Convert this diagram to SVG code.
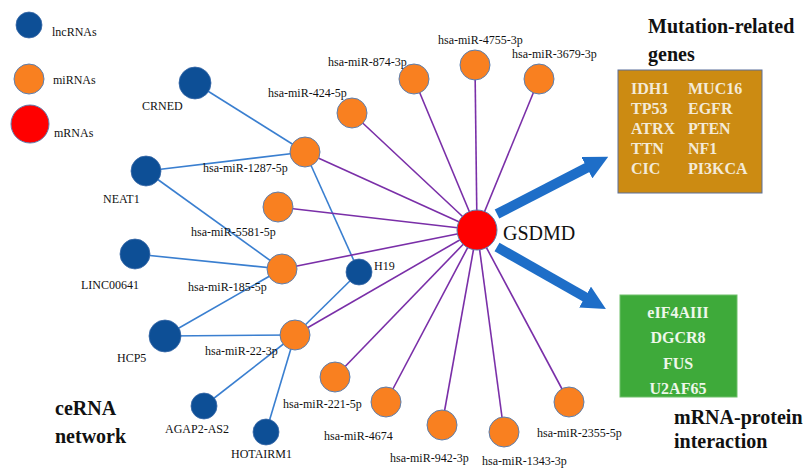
<svg xmlns="http://www.w3.org/2000/svg" width="809" height="468" viewBox="0 0 809 468">
<defs>
<style>
.lnc{fill:#0d4f96;stroke:#3a6aa8;stroke-width:0.8}
.mi{fill:#f98020;stroke:#5b7fb0;stroke-width:1}
.m{fill:#ff0000;stroke:#5b7fb0;stroke-width:1}
.lbl{font-family:"Liberation Serif","Times New Roman",Tinos,"DejaVu Serif",serif;font-size:12px;fill:#111}
.leg{font-family:"Liberation Serif","Times New Roman",Tinos,"DejaVu Serif",serif;font-size:12px;fill:#111}
.blue{stroke:#3a7fd0;stroke-width:1.6;fill:none}
.pur{stroke:#7a2fa8;stroke-width:1.6;fill:none}
.title{font-family:"Liberation Serif","Times New Roman",Tinos,"DejaVu Serif",serif;font-size:20px;font-weight:bold;fill:#111}
.box{font-family:"Liberation Serif","Times New Roman",Tinos,"DejaVu Serif",serif;font-size:16px;font-weight:bold;fill:#f3ead8}
.gbox{font-family:"Liberation Serif","Times New Roman",Tinos,"DejaVu Serif",serif;font-size:16px;font-weight:bold;fill:#eef7ea}
.big{font-family:"Liberation Serif","Times New Roman",Tinos,"DejaVu Serif",serif;font-size:20px;fill:#111}
</style>
<marker id="ah" markerWidth="2.4" markerHeight="2.4" refX="0.8" refY="1.2" orient="auto" markerUnits="strokeWidth">
<path d="M0,0 L2.4,1.2 L0,2.4 z" fill="#1e6ec8"/>
</marker>
</defs>
<rect width="809" height="468" fill="#ffffff"/>

<g id="legend">
<circle class="lnc" cx="29" cy="25" r="13"/>
<text class="leg" x="52" y="36">lncRNAs</text>
<circle class="mi" cx="29" cy="79" r="15"/>
<text class="leg" x="53" y="84">miRNAs</text>
<circle class="m" cx="30" cy="124" r="19"/>
<text class="leg" x="54" y="137">mRNAs</text>
</g>

<g id="connectors">
<line class="blue" x1="195" y1="83" x2="305" y2="152"/>
<line class="blue" x1="146" y1="171" x2="305" y2="152"/>
<line class="blue" x1="146" y1="171" x2="282" y2="269"/>
<line class="blue" x1="305" y1="152" x2="359" y2="272"/>
<line class="blue" x1="135" y1="254" x2="282" y2="269"/>
<line class="blue" x1="165" y1="336" x2="282" y2="269"/>
<line class="blue" x1="165" y1="336" x2="295" y2="335"/>
<line class="blue" x1="359" y1="272" x2="295" y2="335"/>
<line class="blue" x1="204" y1="406" x2="295" y2="335"/>
<line class="blue" x1="266" y1="432" x2="295" y2="335"/>
<line class="pur" x1="352" y1="113" x2="477" y2="230"/>
<line class="pur" x1="414" y1="79" x2="477" y2="230"/>
<line class="pur" x1="475" y1="65" x2="477" y2="230"/>
<line class="pur" x1="539" y1="79" x2="477" y2="230"/>
<line class="pur" x1="305" y1="152" x2="477" y2="230"/>
<line class="pur" x1="278" y1="207" x2="477" y2="230"/>
<line class="pur" x1="282" y1="269" x2="477" y2="230"/>
<line class="pur" x1="295" y1="335" x2="477" y2="230"/>
<line class="pur" x1="335" y1="377" x2="477" y2="230"/>
<line class="pur" x1="386" y1="402" x2="477" y2="230"/>
<line class="pur" x1="442" y1="425" x2="477" y2="230"/>
<line class="pur" x1="504" y1="432" x2="477" y2="230"/>
<line class="pur" x1="569" y1="402" x2="477" y2="230"/>
<line x1="497" y1="214" x2="594" y2="164" stroke="#1e6ec8" stroke-width="10" marker-end="url(#ah)"/>
<line x1="497" y1="247" x2="592" y2="301" stroke="#1e6ec8" stroke-width="10" marker-end="url(#ah)"/>
</g>

<g id="CRNED"><circle class="lnc" cx="195" cy="83" r="16"/><text class="lbl" x="142" y="110">CRNED</text></g>
<g id="NEAT1"><circle class="lnc" cx="146" cy="171" r="15"/><text class="lbl" x="103" y="203">NEAT1</text></g>
<g id="LINC00641"><circle class="lnc" cx="135" cy="254" r="15"/><text class="lbl" x="81" y="289">LINC00641</text></g>
<g id="HCP5"><circle class="lnc" cx="165" cy="336" r="16"/><text class="lbl" x="117" y="362">HCP5</text></g>
<g id="AGAP2-AS2"><circle class="lnc" cx="204" cy="406" r="13"/><text class="lbl" x="165" y="433">AGAP2-AS2</text></g>
<g id="HOTAIRM1"><circle class="lnc" cx="266" cy="432" r="13"/><text class="lbl" x="231" y="458">HOTAIRM1</text></g>
<g id="H19"><circle class="lnc" cx="359" cy="272" r="13"/><text class="lbl" x="374" y="270">H19</text></g>

<g id="miR-424-5p"><circle class="mi" cx="352" cy="113" r="15"/><text class="lbl" x="268" y="97">hsa-miR-424-5p</text></g>
<g id="miR-874-3p"><circle class="mi" cx="414" cy="79" r="15"/><text class="lbl" x="328" y="66">hsa-miR-874-3p</text></g>
<g id="miR-4755-3p"><circle class="mi" cx="475" cy="65" r="15"/><text class="lbl" x="438" y="44">hsa-miR-4755-3p</text></g>
<g id="miR-3679-3p"><circle class="mi" cx="539" cy="79" r="15"/><text class="lbl" x="512" y="58">hsa-miR-3679-3p</text></g>
<g id="miR-1287-5p"><circle class="mi" cx="305" cy="152" r="15"/><text class="lbl" x="203" y="172">hsa-miR-1287-5p</text></g>
<g id="miR-5581-5p"><circle class="mi" cx="278" cy="207" r="15"/><text class="lbl" x="191" y="236">hsa-miR-5581-5p</text></g>
<g id="miR-185-5p"><circle class="mi" cx="282" cy="269" r="15"/><text class="lbl" x="188" y="291">hsa-miR-185-5p</text></g>
<g id="miR-22-3p"><circle class="mi" cx="295" cy="335" r="15"/><text class="lbl" x="205" y="355">hsa-miR-22-3p</text></g>
<g id="miR-221-5p"><circle class="mi" cx="335" cy="377" r="15"/><text class="lbl" x="283" y="408">hsa-miR-221-5p</text></g>
<g id="miR-4674"><circle class="mi" cx="386" cy="402" r="15"/><text class="lbl" x="324" y="440">hsa-miR-4674</text></g>
<g id="miR-942-3p"><circle class="mi" cx="442" cy="425" r="15"/><text class="lbl" x="390" y="462">hsa-miR-942-3p</text></g>
<g id="miR-1343-3p"><circle class="mi" cx="504" cy="432" r="15"/><text class="lbl" x="482" y="465">hsa-miR-1343-3p</text></g>
<g id="miR-2355-5p"><circle class="mi" cx="569" cy="402" r="15"/><text class="lbl" x="537" y="437">hsa-miR-2355-5p</text></g>

<g id="GSDMD"><circle class="m" cx="477" cy="230" r="20"/><text class="big" x="503" y="240">GSDMD</text></g>

<g id="mutation-box">
<text class="title" x="648" y="33">Mutation-related</text>
<text class="title" x="648" y="61">genes</text>
<rect x="618" y="70" width="144" height="123" fill="#cc8b12" stroke="#5a6f9a" stroke-width="1"/>
<text class="box" x="631" y="94">IDH1</text><text class="box" x="688" y="94">MUC16</text>
<text class="box" x="631" y="114">TP53</text><text class="box" x="688" y="114">EGFR</text>
<text class="box" x="631" y="134">ATRX</text><text class="box" x="688" y="134">PTEN</text>
<text class="box" x="631" y="154">TTN</text><text class="box" x="688" y="154">NF1</text>
<text class="box" x="631" y="174">CIC</text><text class="box" x="688" y="174">PI3KCA</text>
</g>

<g id="protein-box">
<rect x="620" y="295" width="117" height="102" fill="#3eaa3a" stroke="#6fbf6a" stroke-width="1"/>
<text class="gbox" x="678" y="318" text-anchor="middle">eIF4AIII</text>
<text class="gbox" x="678" y="343" text-anchor="middle">DGCR8</text>
<text class="gbox" x="678" y="369" text-anchor="middle">FUS</text>
<text class="gbox" x="678" y="394" text-anchor="middle">U2AF65</text>
<text class="title" x="674" y="424">mRNA-protein</text>
<text class="title" x="674" y="448">interaction</text>
</g>

<g id="ceRNA-title">
<text class="title" x="55" y="415">ceRNA</text>
<text class="title" x="55" y="443">network</text>
</g>
</svg>
